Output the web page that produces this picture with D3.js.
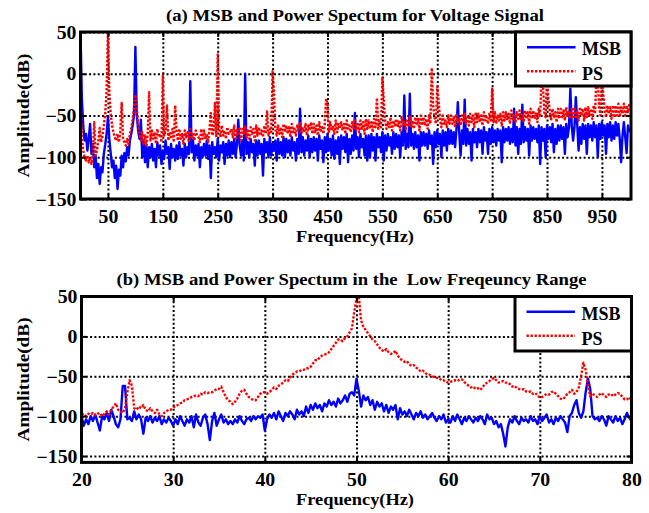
<!DOCTYPE html>
<html><head><meta charset="utf-8">
<script src="https://cdn.jsdelivr.net/npm/d3@7/dist/d3.min.js"></script>
<style>
body{margin:0;background:#fff;}
svg text{font-family:"Liberation Serif","Times New Roman",serif;font-weight:bold;fill:#000;}
</style></head><body>
<svg id="chart" width="649" height="513"></svg>
<script>
// ---------- data ----------
const seriesNames = ["MSB", "PS"];
const titleA = "(a) MSB and Power Spectum for Voltage Signal";
const titleB = "(b) MSB and Power Spectum in the  Low Freqeuncy Range";
const xLabel = "Frequency(Hz)";
const yLabel = "Amplitude(dB)";
const yTicks = [-150, -100, -50, 0, 50];
const xTicksA = [50, 150, 250, 350, 450, 550, 650, 750, 850, 950];
const xTicksB = [20, 30, 40, 50, 60, 70, 80];

// panel (a): frequencies 0..1000 Hz, 2.5 Hz apart
const freqStartA = 0, freqStepA = 2.5;
const msbA = [50,-30,-62,-80,-72,-92,-78,-60,-96,-84,-112,-98,-125,-108,-132,-112,-118,-96,-85,-72,
-52,-78,-95,-112,-104,-125,-110,-138,-115,-122,-98,-112,-95,-105,-88,-98,-80,-72,-62,-50,
32,-48,-68,-78,-55,-100,-82,-106,-85,-112,
-88,-100,-84,-104,-90,-112,-82,-98,-86,-108,-92,-102,-80,-96,-88,-114,-84,-100,-90,-104,
-86,-102,-82,-98,-90,-110,-84,-100,-88,-96,-9,-94,-80,-104,-86,-98,-84,-112,-88,-100,
-84,-98,-80,-102,-86,-125,-82,-96,-88,-100,-78,-104,-86,-94,-82,-108,-84,-98,-80,-100,
-82,-96,-78,-100,-84,-55,-86,-98,-80,-104,0,-96,-82,-100,-78,-94,-84,-110,-80,-98,
-80,-96,-84,-122,-78,-94,-82,-100,-76,-98,-84,-92,-80,-104,-78,-96,-82,-98,-76,-100,
-78,-94,-80,-98,-76,-92,-82,-104,-78,-96,-42,-94,-76,-98,-80,-92,-74,-100,-78,-94,
-76,-92,-78,-104,-74,-90,-80,-106,-76,-94,-72,-92,-78,-98,-74,-102,-80,-96,-76,-108,
-74,-90,-76,-94,-72,-106,-78,-96,-74,-92,-47,-90,-76,-100,-72,-88,-78,-98,-74,-104,
-74,-100,-72,-92,-76,-104,-72,-88,-76,-94,-70,-104,-74,-92,-72,-86,-76,-96,-70,-90,
-72,-88,-74,-100,-70,-86,-26,-90,-72,-88,-24,-86,-72,-90,-70,-88,-74,-104,-70,-86,
-70,-86,-72,-90,-68,-84,-74,-108,-70,-88,-68,-84,-72,-100,-68,-86,-70,-92,-66,-84,
-68,-84,-70,-88,-66,-34,-70,-98,-68,-84,-31,-86,-66,-84,-70,-104,-66,-82,-70,-88,
-66,-82,-68,-96,-64,-80,-70,-96,-66,-84,-64,-82,-68,-86,-66,-80,-68,-106,-64,-82,
-66,-80,-64,-84,-66,-82,-42,-86,-64,-96,-66,-84,-37,-82,-64,-80,-66,-98,-62,-80,
-64,-78,-66,-82,-62,-108,-64,-80,-66,-100,-62,-78,-64,-82,-60,-94,-66,-84,-62,-80,
-62,-78,-64,-96,-60,-76,-64,-18,-62,-80,-64,-28,-60,-92,-64,-84,-60,-78,-62,-96,
-60,-76,-62,-80,-58,-76,-62,-100,-60,-78,-58,-74,-62,-96,-60,-76,-58,-80,-62,-78,
-58,-74,-60,-78,-106,-74,-58,-76,-95,-62,-70];
const psA = [-30,-75,-92,-100,-104,-98,-106,-100,-108,-96,-58,-98,-92,-80,-65,-82,-75,-62,-48,-20,
50,-22,-48,-62,-70,-76,-80,-72,-82,-70,-35,-78,-82,-86,-78,-84,-72,-65,-55,-40,
-25,-42,-60,-72,-80,-70,-84,-74,-86,-72,
-22,-80,-68,-78,-70,-84,-66,-76,-72,-82,-2,-74,-68,-38,-80,-70,-76,-66,-82,-38,
-70,-80,-66,-78,-72,-84,-68,-76,-70,-82,-66,-78,-72,-80,-68,-74,-76,-82,-66,-78,
-68,-78,-72,-82,-66,-45,-74,-70,-35,-76,23,-64,-76,-62,-74,-68,-78,-64,-72,-70,
-66,-76,-62,-78,-68,-74,-64,-80,-66,-72,-62,-76,-68,-78,-64,-72,-66,-80,-62,-74,
-64,-74,-68,-76,-62,-72,-45,-74,-66,-70,3,-20,-66,-74,-62,-72,-64,-76,-60,-70,
-62,-72,-64,-76,-60,-70,-66,-74,-62,-68,-58,-72,-64,-70,-60,-74,-62,-68,-58,-72,
-60,-70,-62,-74,-58,-68,-64,-72,-60,-30,-36,-70,-58,-68,-62,-72,-56,-70,-60,-66,
-58,-68,-60,-72,-56,-66,-62,-70,-58,-66,-54,-68,-60,-70,-56,-66,-58,-72,-54,-66,
-56,-66,-58,-70,-54,-64,-29,-66,-56,-64,-5,-30,-56,-66,-58,-64,-52,-68,-56,-62,
-54,-64,-56,-68,-52,-62,-58,-66,-54,-62,-50,-64,-56,-66,-52,-62,-54,-68,-50,-62,
-52,-62,-54,-66,-50,-60,7,-38,-52,-60,-15,-34,-54,-64,-50,-60,-56,-64,-50,-60,
-50,-60,-52,-64,-48,-58,-54,-62,-50,-58,-48,-60,-52,-62,-48,-58,-50,-64,-46,-58,
-48,-58,-50,-62,-46,-56,-52,-60,-48,-56,-18,-58,-46,-60,-50,-56,-48,-62,-46,-56,
-46,-56,-48,-60,-44,-54,-50,-58,-46,-54,-44,-56,-48,-58,-44,-54,-46,-60,-42,-54,
-44,-54,-46,-58,-42,-52,0,-10,-46,-52,-5,-30,-44,-56,-42,-52,-46,-58,-42,-54,
-42,-52,-44,-56,-40,-50,-46,-54,-42,-52,-40,-54,-44,-56,-40,-50,-42,-56,-40,-52,
-40,-50,-42,-54,-38,-48,0,-8,-40,-50,0,-25,-42,-52,-38,-48,-40,-54,-38,-50,
-38,-50,-36,-52,-40,-48,-36,-50,-38,-46,-36];

// panel (b): frequencies 20..80 Hz, 0.25 Hz apart
const freqStartB = 20, freqStepB = 0.25;
const msbB = [-100,-112,-104,-110,-100,-106,-98,-108,-118,-100,-104,-96,-106,-92,-100,-110,-114,-104,-62,-62,
-104,-102,-106,-94,-104,-98,-104,-122,-102,-106,-100,-108,-102,-106,-100,-110,-104,-108,-102,-106,
-112,-104,-110,-100,-106,-112,-104,-108,-100,-114,-98,-108,-112,-102,-98,-110,-130,-106,-96,-112,
-104,-98,-108,-104,-110,-106,-110,-104,-108,-100,-106,-110,-104,-102,-106,-100,-104,-100,-102,-98,
-118,-104,-98,-102,-96,-104,-94,-100,-106,-96,-100,-94,-98,-104,-92,-98,-94,-100,-88,-96,
-86,-92,-84,-90,-86,-94,-84,-88,-80,-86,-82,-88,-78,-84,-80,-74,-82,-72,-70,-74,
-53,-68,-88,-74,-80,-76,-86,-80,-92,-82,-88,-84,-94,-86,-96,-88,-92,-86,-104,-90,
-98,-94,-100,-92,-98,-104,-96,-100,-94,-102,-98,-104,-100,-96,-102,-106,-100,-104,-98,-108,
-104,-108,-100,-106,-98,-104,-110,-102,-106,-100,-104,-108,-102,-106,-100,-104,-110,-98,-104,-102,
-110,-106,-114,-110,-122,-138,-114,-104,-108,-100,-106,-110,-102,-106,-104,-108,-100,-106,-104,-110,
-100,-106,-102,-98,-108,-104,-110,-102,-106,-100,-104,-108,-120,-100,-96,-86,-80,-96,-102,-94,
-70,-53,-66,-100,-104,-102,-106,-100,-104,-112,-100,-104,-108,-100,-106,-102,-110,-104,-96,-102,
-106];
const psB = [-98,-97,-100,-97,-98,-96,-99,-97,-96,-100,-97,-94,-98,-92,-88,-84,-92,-94,-96,-90,
-70,-55,-62,-90,-92,-88,-90,-86,-92,-94,-90,-94,-96,-92,-98,-100,-96,-94,-92,-92,
-89,-88,-86,-84,-83,-80,-79,-78,-76,-75,-74,-75,-72,-73,-70,-71,-70,-70,-68,-66,
-66,-63,-70,-76,-80,-82,-85,-82,-78,-72,-68,-67,-72,-76,-78,-80,-80,-76,-72,-70,
-70,-72,-70,-67,-64,-66,-62,-60,-58,-55,-56,-52,-48,-46,-44,-44,-42,-42,-40,-40,
-38,-34,-30,-30,-26,-24,-23,-22,-20,-16,-12,-8,-4,-4,-6,-2,0,5,10,30,
48,50,20,12,8,4,0,-4,-6,-10,-14,-17,-19,-16,-20,-22,-21,-18,-24,-28,
-30,-32,-31,-35,-37,-36,-39,-41,-44,-43,-46,-48,-48,-50,-51,-52,-52,-55,-55,-57,
-58,-57,-56,-55,-56,-54,-54,-57,-60,-62,-64,-63,-66,-65,-67,-64,-60,-58,-56,-54,
-52,-55,-58,-57,-56,-58,-58,-60,-63,-62,-65,-66,-67,-66,-69,-70,-69,-72,-71,-74,
-77,-76,-74,-72,-73,-70,-69,-72,-75,-78,-79,-76,-72,-70,-67,-72,-70,-64,-50,-33,
-42,-62,-75,-72,-74,-76,-73,-71,-74,-76,-73,-72,-75,-73,-71,-72,-76,-79,-78,-80,
-75];

// ---------- drawing ----------
const svg = d3.select("#chart");
const colors = ["#0000ff", "#ff0000"];
const dashes = [null, "2.4,1.6"];

const panels = [
  {id:"a", series:[msbA, psA], start:freqStartA, step:freqStepA, xDomain:[0,1003], yDomain:[-150,50],
   x0:80.5, x1:631, y0:32, y1:199, xTicks:xTicksA, title:titleA, titleX:355, titleY:20.5, titleLen:378,
   tickY:223, xLabelY:242, legend:{x:515.5, y:32, w:115.5, h:54}},
  {id:"b", series:[msbB, psB], start:freqStartB, step:freqStepB, xDomain:[20,80], yDomain:[-158,50],
   x0:81.5, x1:631.5, y0:296.5, y1:462.4, xTicks:xTicksB, title:titleB, titleX:351.5, titleY:285, titleLen:470,
   tickY:486, xLabelY:505, legend:{x:515, y:296.5, w:116.5, h:54.5}}
];

function stretch(sel, k) {
  sel.each(function() {
    const L = this.getComputedTextLength();
    d3.select(this).attr("textLength", L * k).attr("lengthAdjust", "spacingAndGlyphs");
  });
}

panels.forEach(p => {
  const x = d3.scaleLinear().domain(p.xDomain).range([p.x0, p.x1]);
  const y = d3.scaleLinear().domain(p.yDomain).range([p.y1, p.y0]);
  const w = p.x1 - p.x0, h = p.y1 - p.y0;
  const g = svg.append("g");

  g.append("clipPath").attr("id", "clip" + p.id)
    .append("rect").attr("x", p.x0).attr("y", p.y0).attr("width", w).attr("height", h);

  // grid
  const gridX = g.append("g").attr("transform", `translate(0,${p.y1})`)
    .call(d3.axisBottom(x).tickValues(p.xTicks).tickSize(-h).tickFormat(""));
  const gridY = g.append("g").attr("transform", `translate(${p.x0},0)`)
    .call(d3.axisLeft(y).tickValues(yTicks).tickSize(-w).tickFormat(""));
  [gridX, gridY].forEach(gr => {
    gr.select(".domain").remove();
    gr.selectAll("line").attr("stroke", "#000").attr("stroke-width", 2).attr("stroke-dasharray", "2,2.3");
  });

  // series
  const line = d3.line().x((d, i) => x(p.start + i * p.step)).y(d => y(d));
  p.series.forEach((s, k) => {
    g.append("path").datum(s).attr("clip-path", `url(#clip${p.id})`)
      .attr("fill", "none").attr("stroke", colors[k]).attr("stroke-width", 2.4)
      .attr("stroke-linejoin", "round")
      .attr("stroke-dasharray", dashes[k]).attr("d", line);
  });

  // inner ticks on all four sides
  const tk = [
    g.append("g").attr("transform", `translate(0,${p.y1})`).call(d3.axisBottom(x).tickValues(p.xTicks).tickSize(-5).tickFormat("")),
    g.append("g").attr("transform", `translate(0,${p.y0})`).call(d3.axisTop(x).tickValues(p.xTicks).tickSize(-5).tickFormat("")),
    g.append("g").attr("transform", `translate(${p.x0},0)`).call(d3.axisLeft(y).tickValues(yTicks).tickSize(-5).tickFormat("")),
    g.append("g").attr("transform", `translate(${p.x1},0)`).call(d3.axisRight(y).tickValues(yTicks).tickSize(-5).tickFormat(""))
  ];
  tk.forEach(t => { t.select(".domain").remove(); t.selectAll("line").attr("stroke", "#000").attr("stroke-width", 2); });

  // frame
  g.append("rect").attr("x", p.x0).attr("y", p.y0).attr("width", w).attr("height", h)
    .attr("fill", "none").attr("stroke", "#000").attr("stroke-width", 3);

  // tick labels
  const xl = g.append("g").attr("transform", `translate(0,${p.y1})`)
    .call(d3.axisBottom(x).tickValues(p.xTicks).tickSize(0).tickFormat(d3.format("d")));
  xl.select(".domain").remove();
  xl.selectAll("text").attr("dy", null).attr("y", p.tickY - p.y1)
    .attr("font-size", 18).attr("font-family", null).attr("fill", "#000");
  stretch(xl.selectAll("text"), 1.1);

  const yl = g.append("g").attr("transform", `translate(${p.x0},0)`)
    .call(d3.axisLeft(y).tickValues(yTicks).tickSize(0).tickFormat(d3.format("d")));
  yl.select(".domain").remove();
  yl.selectAll("text").attr("x", -4).attr("dy", "0.34em")
    .attr("font-size", 18).attr("font-family", null).attr("fill", "#000");
  stretch(yl.selectAll("text"), 1.1);

  // title and axis labels
  g.append("text").attr("x", p.titleX).attr("y", p.titleY).attr("text-anchor", "middle")
    .attr("font-size", 16.5).style("white-space", "pre")
    .attr("textLength", p.titleLen).attr("lengthAdjust", "spacingAndGlyphs").text(p.title);
  g.append("text").attr("x", 355).attr("y", p.xLabelY).attr("text-anchor", "middle")
    .attr("font-size", 17.5).attr("textLength", 118).attr("lengthAdjust", "spacingAndGlyphs").text(xLabel);
  g.append("text").attr("transform", `translate(29,${(p.y0 + p.y1) / 2}) rotate(-90)`)
    .attr("text-anchor", "middle").attr("font-size", 17.5)
    .attr("textLength", 124).attr("lengthAdjust", "spacingAndGlyphs").text(yLabel);

  // legend
  const L = p.legend;
  const lg = g.append("g");
  lg.append("rect").attr("x", L.x).attr("y", L.y).attr("width", L.w).attr("height", L.h)
    .attr("fill", "#fff").attr("stroke", "#000").attr("stroke-width", 3);
  seriesNames.forEach((name, k) => {
    const ly = L.y + 15.3 + k * 24;
    lg.append("line").attr("x1", L.x + 11.5).attr("x2", L.x + 60).attr("y1", ly).attr("y2", ly)
      .attr("stroke", colors[k]).attr("stroke-width", 2.6).attr("stroke-dasharray", dashes[k]);
    lg.append("text").attr("x", L.x + 66.5).attr("y", L.y + 23 + k * 25)
      .attr("font-size", 18).text(name);
  });
});
</script>
</body></html>
